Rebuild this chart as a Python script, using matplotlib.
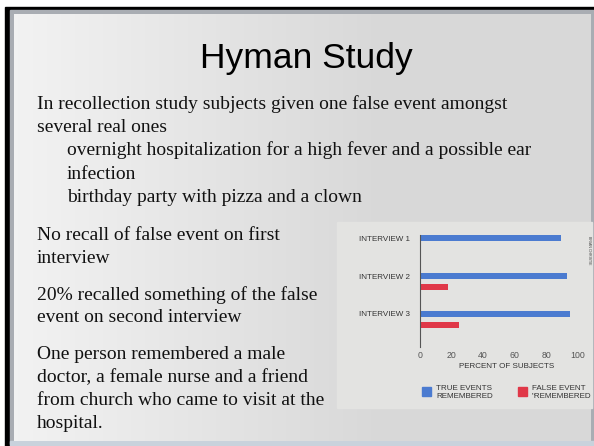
import matplotlib
matplotlib.use("Agg")
import matplotlib.pyplot as plt
import numpy as np
from matplotlib.patches import Rectangle

# ---- data ----
interviews = ["INTERVIEW 1", "INTERVIEW 2", "INTERVIEW 3"]
true_events = [89, 93, 95]
false_events = [0, 18, 25]
x_ticks = [0, 20, 40, 60, 80, 100]
legend_labels = ["TRUE EVENTS\nREMEMBERED", "FALSE EVENT\n\"REMEMBERED"]

title = "Hyman Study"
body_lines = [
    ("In recollection study subjects given one false event amongst", 0, 109),
    ("several real ones", 0, 132),
    ("overnight hospitalization for a high fever and a possible ear", 1, 155),
    ("infection", 1, 179),
    ("birthday party with pizza and a clown", 1, 202),
    ("No recall of false event on first", 0, 240),
    ("interview", 0, 263),
    ("20% recalled something of the false", 0, 300),
    ("event on second interview", 0, 322),
    ("One person remembered a male", 0, 359),
    ("doctor, a female nurse and a friend", 0, 382),
    ("from church who came to visit at the", 0, 405),
    ("hospital.", 0, 428),
]

W, H = 594, 446
fig = plt.figure(figsize=(W / 100, H / 100), dpi=100)

NARROW = ["Liberation Sans Narrow", "Liberation Sans"]

# background axes in pixel coordinates
bg = fig.add_axes([0, 0, 1, 1])
bg.set_xlim(0, W)
bg.set_ylim(H, 0)
bg.axis("off")
bg.add_patch(Rectangle((0, 0), W, H, color="white", zorder=0))
bg.add_patch(Rectangle((5, 7), W - 5, H - 7, color="black", zorder=1))
bg.add_patch(Rectangle((10, 10), W - 10, 434, color="#a9adb3", zorder=2))
bg.add_patch(Rectangle((10, 441), W - 10, 5, color="#c9d2dc", zorder=2))
# slide gradient
grad = np.linspace(0, 1, 300)
left = np.array([0.95, 0.95, 0.95])
right = np.array([0.85, 0.85, 0.85])
t = np.clip(grad * 1.6, 0, 1)
img = (left[None, :] * (1 - t[:, None]) + right[None, :] * t[:, None])[None, :, :]
bg.imshow(img, extent=(14, 591, 441, 14), aspect="auto", zorder=3, interpolation="bilinear")

# title
bg.text(306.5, 68.3, title, fontsize=25.5, family="Liberation Sans", ha="center",
        va="baseline", color="black", zorder=5)
for txt, lvl, yb in body_lines:
    bg.text(36.7 if lvl == 0 else 66.7, yb, txt, fontsize=14, family="Liberation Serif",
            ha="left", va="baseline", color="#111111", zorder=5)

# chart inset background
bg.add_patch(Rectangle((337, 222), 255, 186, color="#e3e3e1", zorder=4))

# bar chart axes
ax_left, ax_right, ax_top, ax_bot = 419.7, 578.0, 235.0, 347.0
ax = fig.add_axes([ax_left / W, 1 - ax_bot / H, (ax_right - ax_left) / W, (ax_bot - ax_top) / H])
ax.set_facecolor("none")
ax.set_zorder(6)
pos = np.arange(len(interviews))
bh = 0.16
ax.barh(pos, true_events, height=bh, color="#4b7bd0")
ax.barh(pos + 0.3, false_events, height=bh, color="#e03848")
ax.set_xlim(0, 100)
ax.set_ylim(2.88, -0.09)
for s in ["top", "right", "bottom"]:
    ax.spines[s].set_visible(False)
ax.spines["left"].set_color("#555555")
ax.spines["left"].set_linewidth(0.8)
ax.set_xticks(x_ticks)
ax.set_xticklabels([str(v) for v in x_ticks], fontsize=6.3, color="#555555", family=NARROW)
ax.set_yticks(pos)
ax.set_yticklabels(interviews, fontsize=5.8, color="#333333", family=NARROW)
ax.tick_params(length=0, pad=3)
ax.tick_params(axis="y", pad=7)

bg.text(507, 367, "PERCENT OF SUBJECTS", fontsize=5.8, color="#333333",
        family=NARROW, ha="center", va="center", zorder=7)
bg.text(588.5, 250, "BRIAN CHRISTIE", fontsize=2.6, color="#444444", rotation=270,
        family=NARROW, ha="center", va="center", zorder=7)

# legend
bg.add_patch(Rectangle((422, 387), 9, 9, color="#4b7bd0", zorder=7))
bg.add_patch(Rectangle((518, 387), 8.5, 9, color="#e03848", zorder=7))
bg.text(436, 392.5, legend_labels[0], fontsize=5.8, color="#333333", linespacing=1.25,
        family=NARROW, ha="left", va="center", zorder=7)
bg.text(532, 392.5, legend_labels[1], fontsize=5.8, color="#333333", linespacing=1.25,
        family=NARROW, ha="left", va="center", zorder=7)

fig.savefig("out.png", dpi=100)
